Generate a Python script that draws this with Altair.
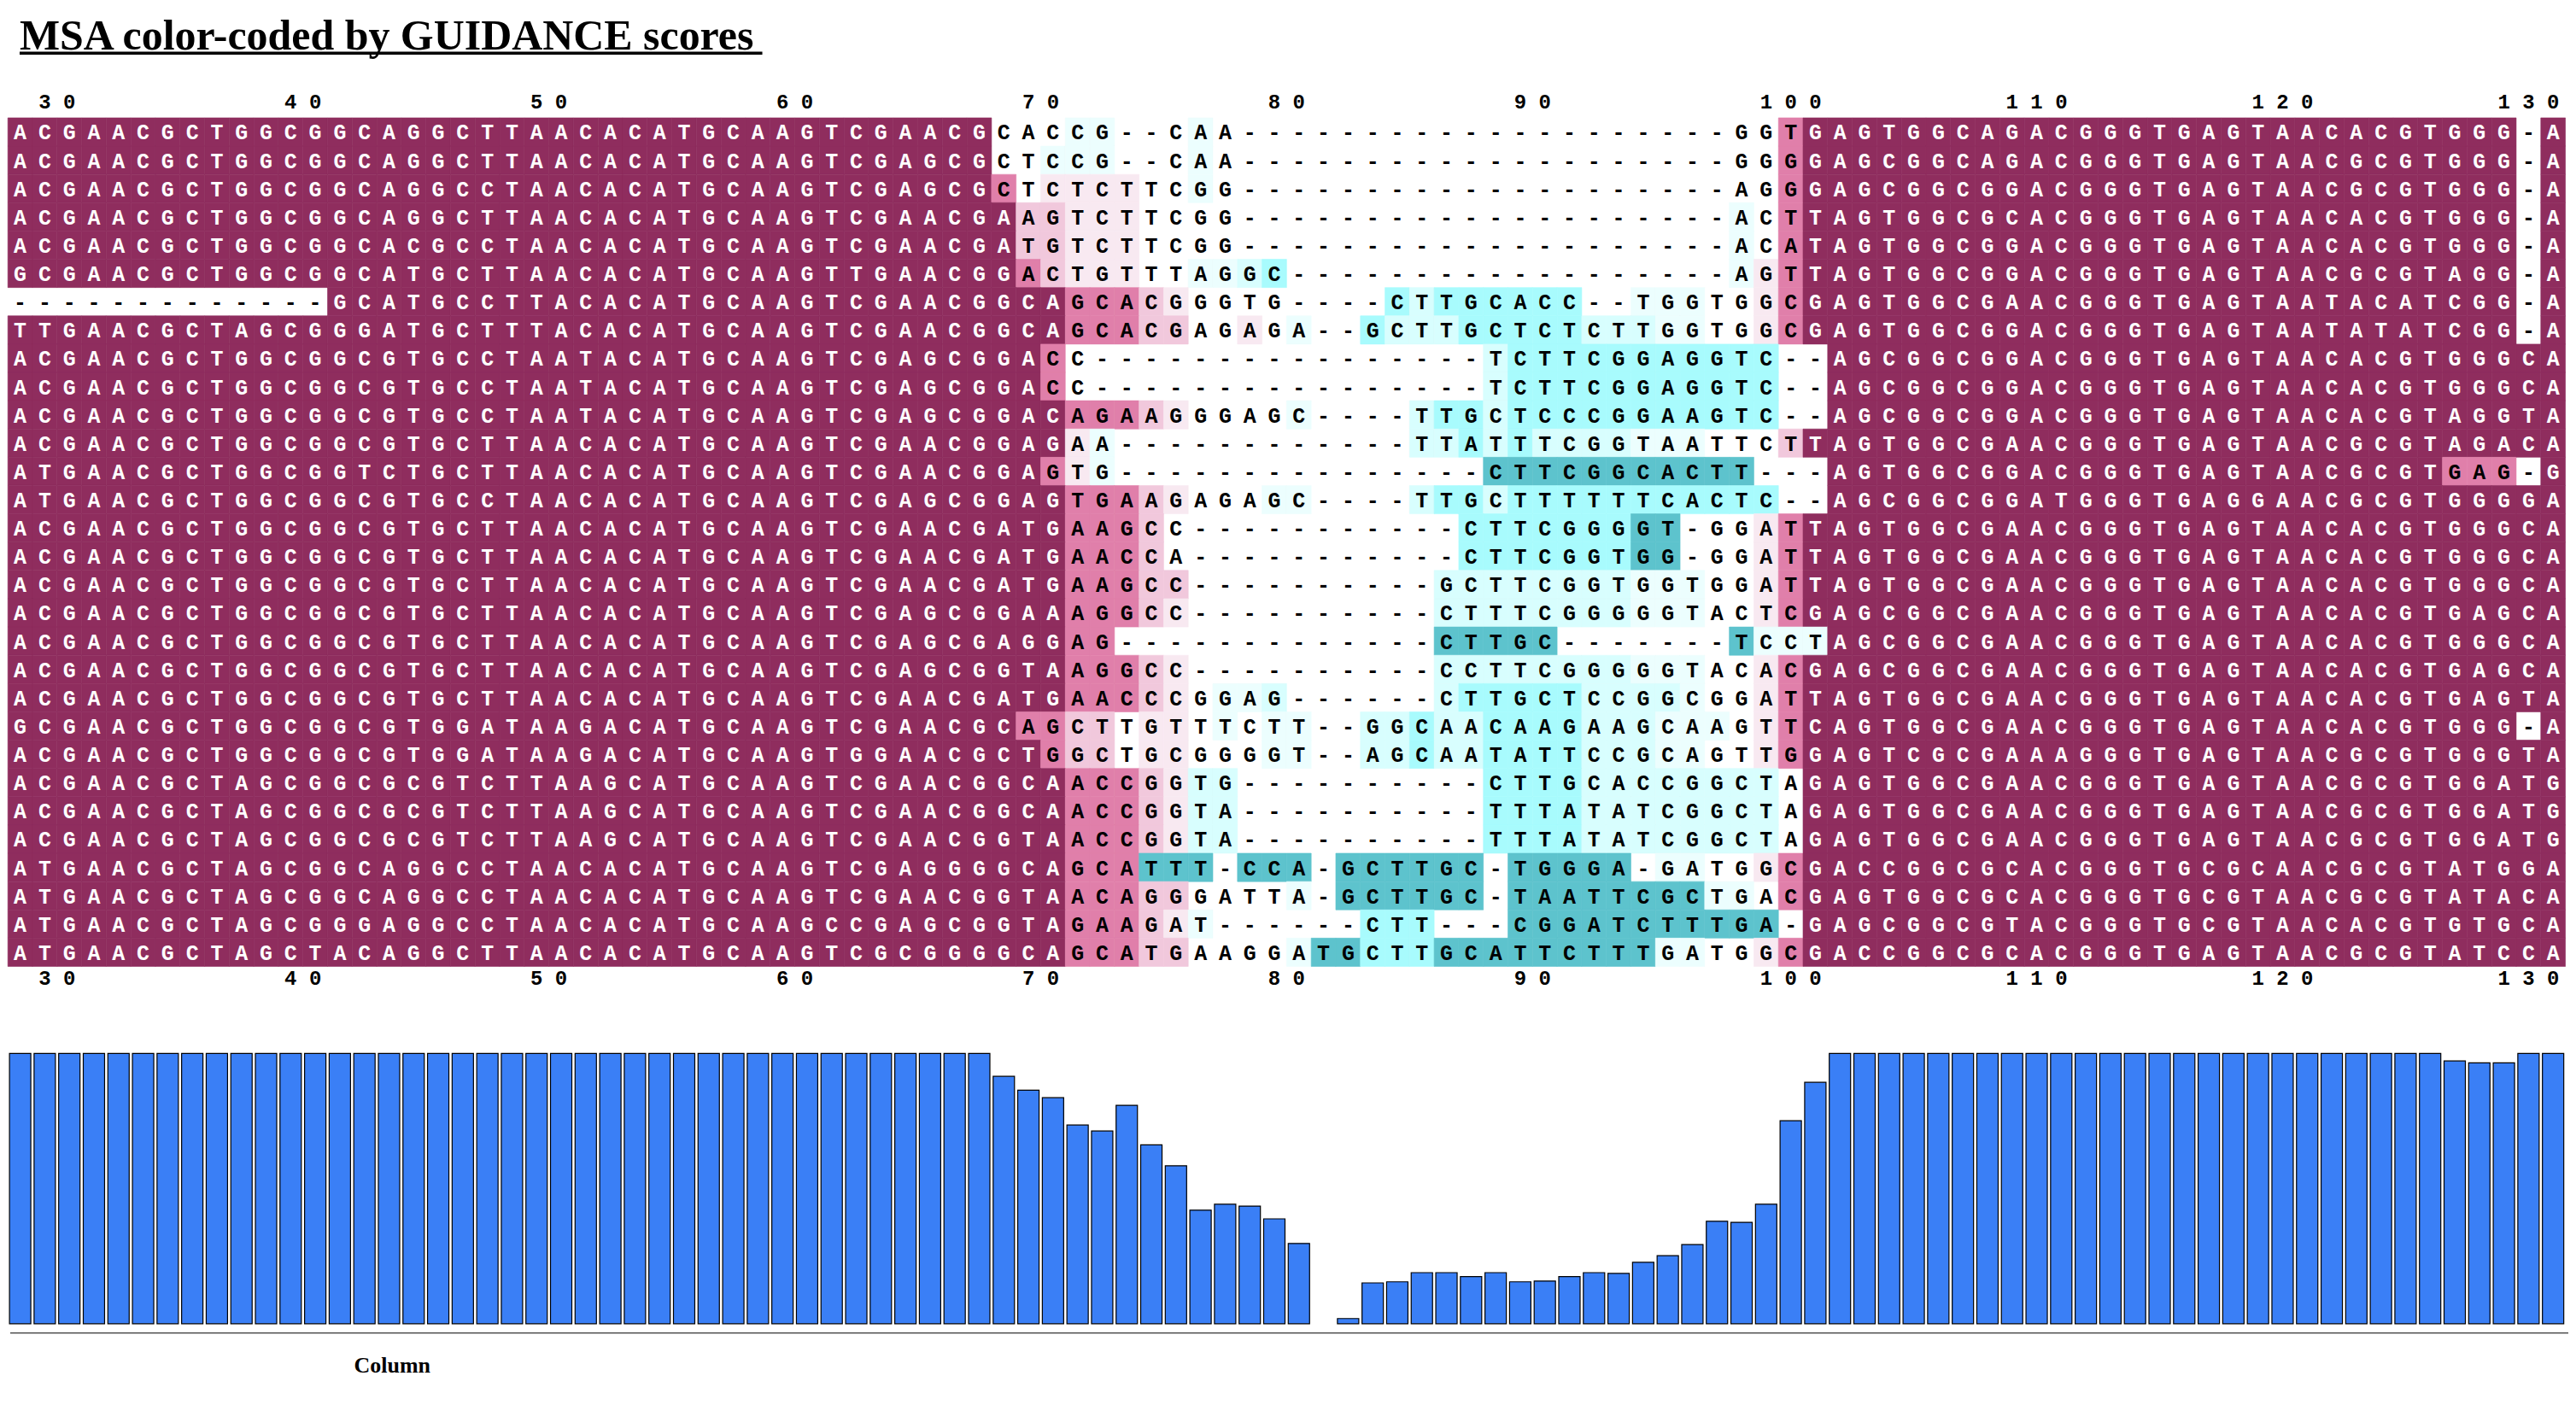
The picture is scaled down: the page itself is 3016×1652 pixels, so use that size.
import altair as alt
import pandas as pd

TITLE = "MSA color-coded by GUIDANCE scores"
AXIS_TITLE = "Column"
FIRST_COL = 28
TICKS = [30, 40, 50, 60, 70, 80, 90, 100, 110, 120, 130]

# grade -> background colour (1 = least reliable ... 9 = most reliable)
PALETTE = {
    "1": "#5DC3CD", "2": "#A8FBFD", "3": "#D8FEFE", "4": "#ECFEFE",
    "6": "#F8E9F1", "7": "#F1C8DC", "8": "#E07FAA", "9": "#8F2D5E",
}

# column segments: 28-53 | 54-70 | 71-80 | 81-97 | 98-105 | 106-131
SEQS = [
    "ACGAACGCTGGCGGCAGGCTTAACAC" "ATGCAAGTCGAACGCAC" "CG--CAA---" "-----------------" "GGTGAGTG" "GCAGACGGGTGAGTAACACGTGGG-A",
    "ACGAACGCTGGCGGCAGGCTTAACAC" "ATGCAAGTCGAGCGCTC" "CG--CAA---" "-----------------" "GGGGAGCG" "GCAGACGGGTGAGTAACGCGTGGG-A",
    "ACGAACGCTGGCGGCAGGCCTAACAC" "ATGCAAGTCGAGCGCTC" "TCTTCGG---" "-----------------" "AGGGAGCG" "GCGGACGGGTGAGTAACGCGTGGG-A",
    "ACGAACGCTGGCGGCAGGCTTAACAC" "ATGCAAGTCGAACGAAG" "TCTTCGG---" "-----------------" "ACTTAGTG" "GCGCACGGGTGAGTAACACGTGGG-A",
    "ACGAACGCTGGCGGCACGCCTAACAC" "ATGCAAGTCGAACGATG" "TCTTCGG---" "-----------------" "ACATAGTG" "GCGGACGGGTGAGTAACACGTGGG-A",
    "GCGAACGCTGGCGGCATGCTTAACAC" "ATGCAAGTTGAACGGAC" "TGTTTAGGC-" "-----------------" "AGTTAGTG" "GCGGACGGGTGAGTAACGCGTAGG-A",
    "-------------GCATGCCTTACAC" "ATGCAAGTCGAACGGCA" "GCACGGGTG-" "---CTTGCACC--TGGT" "GGCGAGTG" "GCGAACGGGTGAGTAATACATCGG-A",
    "TTGAACGCTAGCGGGATGCTTTACAC" "ATGCAAGTCGAACGGCA" "GCACGAGAGA" "--GCTTGCTCTCTTGGT" "GGCGAGTG" "GCGGACGGGTGAGTAATATATCGG-A",
    "ACGAACGCTGGCGGCGTGCCTAATAC" "ATGCAAGTCGAGCGGAC" "C---------" "-------TCTTCGGAGG" "TC--AGCG" "GCGGACGGGTGAGTAACACGTGGGCA",
    "ACGAACGCTGGCGGCGTGCCTAATAC" "ATGCAAGTCGAGCGGAC" "C---------" "-------TCTTCGGAGG" "TC--AGCG" "GCGGACGGGTGAGTAACACGTGGGCA",
    "ACGAACGCTGGCGGCGTGCCTAATAC" "ATGCAAGTCGAGCGGAC" "AGAAGGGAGC" "----TTGCTCCCGGAAG" "TC--AGCG" "GCGGACGGGTGAGTAACACGTAGGTA",
    "ACGAACGCTGGCGGCGTGCTTAACAC" "ATGCAAGTCGAACGGAG" "AA--------" "----TTATTTCGGTAAT" "TCTTAGTG" "GCGAACGGGTGAGTAACGCGTAGACA",
    "ATGAACGCTGGCGGTCTGCTTAACAC" "ATGCAAGTCGAACGGAG" "TG--------" "-------CTTCGGCACT" "T---AGTG" "GCGGACGGGTGAGTAACGCGTGAG-G",
    "ATGAACGCTGGCGGCGTGCCTAACAC" "ATGCAAGTCGAGCGGAG" "TGAAGAGAGC" "----TTGCTTTTTTCAC" "TC--AGCG" "GCGGATGGGTGAGGAACGCGTGGGGA",
    "ACGAACGCTGGCGGCGTGCTTAACAC" "ATGCAAGTCGAACGATG" "AAGCC-----" "------CTTCGGGGT-G" "GATTAGTG" "GCGAACGGGTGAGTAACACGTGGGCA",
    "ACGAACGCTGGCGGCGTGCTTAACAC" "ATGCAAGTCGAACGATG" "AACCA-----" "------CTTCGGTGG-G" "GATTAGTG" "GCGAACGGGTGAGTAACACGTGGGCA",
    "ACGAACGCTGGCGGCGTGCTTAACAC" "ATGCAAGTCGAACGATG" "AAGCC-----" "-----GCTTCGGTGGTG" "GATTAGTG" "GCGAACGGGTGAGTAACACGTGGGCA",
    "ACGAACGCTGGCGGCGTGCTTAACAC" "ATGCAAGTCGAGCGGAA" "AGGCC-----" "-----CTTTCGGGGGTA" "CTCGAGCG" "GCGAACGGGTGAGTAACACGTGAGCA",
    "ACGAACGCTGGCGGCGTGCTTAACAC" "ATGCAAGTCGAGCGAGG" "AG--------" "-----CTTGC-------" "TCCTAGCG" "GCGAACGGGTGAGTAACACGTGGGCA",
    "ACGAACGCTGGCGGCGTGCTTAACAC" "ATGCAAGTCGAGCGGTA" "AGGCC-----" "-----CCTTCGGGGGTA" "CACGAGCG" "GCGAACGGGTGAGTAACACGTGAGCA",
    "ACGAACGCTGGCGGCGTGCTTAACAC" "ATGCAAGTCGAACGATG" "AACCCGGAG-" "-----CTTGCTCCGGCG" "GATTAGTG" "GCGAACGGGTGAGTAACACGTGAGTA",
    "GCGAACGCTGGCGGCGTGGATAAGAC" "ATGCAAGTCGAACGCAG" "CTTGTTTCTT" "--GGCAACAAGAAGCAA" "GTTCAGTG" "GCGAACGGGTGAGTAACACGTGGG-A",
    "ACGAACGCTGGCGGCGTGGATAAGAC" "ATGCAAGTGGAACGCTG" "GCTGCGGGGT" "--AGCAATATTCCGCAG" "TTGGAGTC" "GCGAAAGGGTGAGTAACGCGTGGGTA",
    "ACGAACGCTAGCGGCGCGTCTTAAGC" "ATGCAAGTCGAACGGCA" "ACCGGTG---" "-------CTTGCACCGG" "CTAGAGTG" "GCGAACGGGTGAGTAACGCGTGGATG",
    "ACGAACGCTAGCGGCGCGTCTTAAGC" "ATGCAAGTCGAACGGCA" "ACCGGTA---" "-------TTTATATCGG" "CTAGAGTG" "GCGAACGGGTGAGTAACGCGTGGATG",
    "ACGAACGCTAGCGGCGCGTCTTAAGC" "ATGCAAGTCGAACGGTA" "ACCGGTA---" "-------TTTATATCGG" "CTAGAGTG" "GCGAACGGGTGAGTAACGCGTGGATG",
    "ATGAACGCTAGCGGCAGGCCTAACAC" "ATGCAAGTCGAGGGGCA" "GCATTT-CCA" "-GCTTGC-TGGGA-GAT" "GGCGACCG" "GCGCACGGGTGCGCAACGCGTATGGA",
    "ATGAACGCTAGCGGCAGGCCTAACAC" "ATGCAAGTCGAACGGTA" "ACAGGGATTA" "-GCTTGC-TAATTCGCT" "GACGAGTG" "GCGCACGGGTGCGTAACGCGTATACA",
    "ATGAACGCTAGCGGGAGGCCTAACAC" "ATGCAAGCCGAGCGGTA" "GAAGAT----" "--CTT---CGGATCTTT" "GA-GAGCG" "GCGTACGGGTGCGTAACACGTGTGCA",
    "ATGAACGCTAGCTACAGGCTTAACAC" "ATGCAAGTCGCGGGGCA" "GCATGAAGGA" "TGCTTGCATTCTTTGAT" "GGCGACCG" "GCGCACGGGTGAGTAACGCGTATCCA",
]

GA = "99999999999999999999999999"          # 26
GB = "99999999999999999"                   # 17
GD = "00000000000000000"                   # 17
GF = "99999999999999999999999999"          # 26
GFG = "999999999999999999999999" "09"      # 26, gap at column 130

GRADES = [
    GA + "99999999999999555" + "4400545000" + GD + "55899999" + GFG,
    GA + "99999999999999554" + "4400545000" + GD + "55899999" + GFG,
    GA + "99999999999999856" + "6665545000" + GD + "55899999" + GFG,
    GA + "99999999999999977" + "6665555000" + GD + "45899999" + GFG,
    GA + "99999999999999977" + "6665555000" + GD + "45899999" + GFG,
    GA + "99999999999999987" + "6665544320" + GD + "46899999" + GFG,
    "0000000000000" "9999999999999" + GB + "8887655550" + "00023222222004445" + "56899999" + GFG,
    GA + GB + "8887755654" + "00233322222333445" + "56899999" + GFG,
    GA + "99999999999999998" + "5000000000" + "00000003222222222" + "22009999" + GF,
    GA + "99999999999999998" + "5000000000" + "00000003222222222" + "22009999" + GF,
    GA + GB + "8887655554" + "00003223222222222" + "22009999" + GF,
    GA + GB + "6400000000" + "00003323233334445" + "55799999" + GF,
    GA + "99999999999999998" + "6400000000" + "00000001111111111" + "10009999" + "999999999999999999999" "88809",
    GA + GB + "8887655544" + "00003223222222222" + "22009999" + GF,
    GA + GB + "8887500000" + "00000022222221105" + "56899999" + GF,
    GA + GB + "8887500000" + "00000022222221105" + "56899999" + GF,
    GA + GB + "8887700000" + "00000333333334445" + "56899999" + GF,
    GA + GB + "8887600000" + "00000333333334445" + "56899999" + GF,
    GA + GB + "8800000000" + "00000111110000000" + "14449999" + GF,
    GA + GB + "8887600000" + "00000333333334445" + "56899999" + GF,
    GA + GB + "8887654430" + "00000322222333345" + "56899999" + GF,
    GA + "99999999999999988" + "7756654544" + "00332332222333444" + "56899999" + GFG,
    GA + "99999999999999998" + "7756655544" + "00332332222333445" + "56899999" + GF,
    GA + GB + "8887633000" + "00000002222333333" + "33599999" + GF,
    GA + GB + "8887633000" + "00000002222333333" + "33599999" + GF,
    GA + GB + "8887633000" + "00000002222333333" + "33599999" + GF,
    GA + GB + "8881110111" + "01111110111110445" + "56899999" + GF,
    GA + GB + "8887755554" + "01111110111111114" + "45899999" + GF,
    GA + GB + "8887640000" + "00222000111111111" + "11099999" + GF,
    GA + GB + "8887755554" + "11222111111111445" + "56899999" + GF,
]

# per-column GUIDANCE score, columns 28..131
SCORES = [
    1.0, 1.0, 1.0, 1.0, 1.0, 1.0, 1.0, 1.0, 1.0, 1.0,          # 28-37
    1.0, 1.0, 1.0, 1.0, 1.0, 1.0, 1.0, 1.0, 1.0, 1.0,          # 38-47
    1.0, 1.0, 1.0, 1.0, 1.0, 1.0, 1.0, 1.0, 1.0, 1.0,          # 48-57
    1.0, 1.0, 1.0, 1.0, 1.0, 1.0, 1.0, 1.0, 1.0, 1.0,          # 58-67
    0.915, 0.864, 0.836, 0.735, 0.713, 0.808, 0.662, 0.584,    # 68-75
    0.420, 0.442, 0.435, 0.388, 0.297, 0.0, 0.019, 0.151,      # 76-83
    0.155, 0.189, 0.189, 0.174, 0.189, 0.155, 0.158, 0.174,    # 84-91
    0.189, 0.186, 0.227, 0.252, 0.293, 0.379, 0.375, 0.442,    # 92-99
    0.751, 0.893,                                              # 100-101
    1.0, 1.0, 1.0, 1.0, 1.0, 1.0, 1.0, 1.0, 1.0, 1.0,          # 102-111
    1.0, 1.0, 1.0, 1.0, 1.0, 1.0, 1.0, 1.0, 1.0, 1.0,          # 112-121
    1.0, 1.0, 1.0, 1.0, 1.0,                                   # 122-126
    0.972, 0.965, 0.965, 1.0, 1.0,                             # 127-131
]

# ---------------------------------------------------------------- tables
cells = []
for r, (s, g) in enumerate(zip(SEQS, GRADES)):
    assert len(s) == 104 and len(g) == 104, (r + 1, len(s), len(g))
    for i, (ch, gr) in enumerate(zip(s, g)):
        c = FIRST_COL + i
        if ch == "-":
            gr = "0"
        cells.append(dict(row=r, row2=r + 1, rowm=r + 0.5, col=c, col2=c + 1,
                          colm=c + 0.5, ch=ch, grade=gr))
cells = pd.DataFrame(cells)
colored = cells[cells["grade"].isin(list(PALETTE))]

bars = pd.DataFrame({"col": [FIRST_COL + i for i in range(len(SCORES))], "score": SCORES})
bars = bars[bars["score"] > 0].copy()
bars["bx"] = bars["col"] + 0.066
bars["bx2"] = bars["col"] + 0.934
bars["zero"] = 0.0

digits = []
for t in TICKS:
    for i, d in enumerate(str(t)):
        digits.append(dict(x=t - 0.5 + i, d=d))
digits = pd.DataFrame(digits)

# ---------------------------------------------------------------- scales
xs = alt.Scale(domain=[28, 132], range=[-2.8, 2996.56], nice=False, zero=False)
ys_msa = alt.Scale(domain=[0, 30], range=[128.8, 1124], nice=False, zero=False)
ys_bar = alt.Scale(domain=[0, 1], range=[1543, 1226], nice=False, zero=False)
pal = alt.Scale(domain=list(PALETTE.keys()), range=list(PALETTE.values()))

cell_layer = alt.Chart(colored).mark_rect(strokeWidth=0.6).encode(
    x=alt.X("col:Q", scale=xs, axis=None),
    x2="col2:Q",
    y=alt.Y("row:Q", scale=ys_msa, axis=None),
    y2="row2:Q",
    color=alt.Color("grade:N", scale=pal, legend=None),
    stroke=alt.Stroke("grade:N", scale=pal, legend=None),
)

letter_layer = alt.Chart(cells).mark_text(
    font="Liberation Mono", fontWeight="bold", fontSize=25, baseline="middle", align="center", dy=1
).encode(
    x=alt.X("colm:Q", scale=xs, axis=None),
    y=alt.Y("rowm:Q", scale=ys_msa, axis=None),
    text="ch:N",
    color=alt.condition(alt.datum.grade == "9", alt.value("white"), alt.value("black")),
)

top_digits = alt.Chart(digits).mark_text(
    font="Liberation Mono", fontWeight="bold", fontSize=24, baseline="middle", align="center",
    color="black"
).encode(x=alt.X("x:Q", scale=xs, axis=None), y=alt.value(111), text="d:N")

bottom_digits = alt.Chart(digits).mark_text(
    font="Liberation Mono", fontWeight="bold", fontSize=24, baseline="middle", align="center",
    color="black"
).encode(x=alt.X("x:Q", scale=xs, axis=None), y=alt.value(1139), text="d:N")

bar_layer = alt.Chart(bars).mark_rect(fill="#3A7FF6", stroke="black", strokeWidth=1.2).encode(
    x=alt.X("bx:Q", scale=xs, axis=None),
    x2="bx2:Q",
    y=alt.Y("score:Q", scale=ys_bar, axis=None),
    y2="zero:Q",
)

one = pd.DataFrame({"t": [TITLE], "a": [AXIS_TITLE]})

axis_line = alt.Chart(one).mark_rule(color="black", strokeWidth=1.2).encode(
    x=alt.value(0), x2=alt.value(3000), y=alt.value(1554)
)

axis_title = alt.Chart(one).mark_text(
    font="Liberation Serif", fontWeight="bold", fontSize=26, align="center", baseline="alphabetic",
    color="black"
).encode(x=alt.value(448), y=alt.value(1600), text="a:N")

title_text = alt.Chart(one).mark_text(
    font="Liberation Serif", fontWeight="bold", fontSize=50, align="left", baseline="alphabetic",
    color="black"
).encode(x=alt.value(11), y=alt.value(49), text="t:N")

title_underline = alt.Chart(one).mark_rule(color="black", strokeWidth=3.5).encode(
    x=alt.value(11), x2=alt.value(882), y=alt.value(53)
)

chart = alt.layer(
    cell_layer, letter_layer, top_digits, bottom_digits, bar_layer,
    axis_line, axis_title, title_text, title_underline,
).resolve_scale(y="independent").properties(
    width=3000, height=1630, padding=0
).configure_view(stroke=None)

chart.save("out.html", embed_options={"renderer": "svg", "actions": False})
